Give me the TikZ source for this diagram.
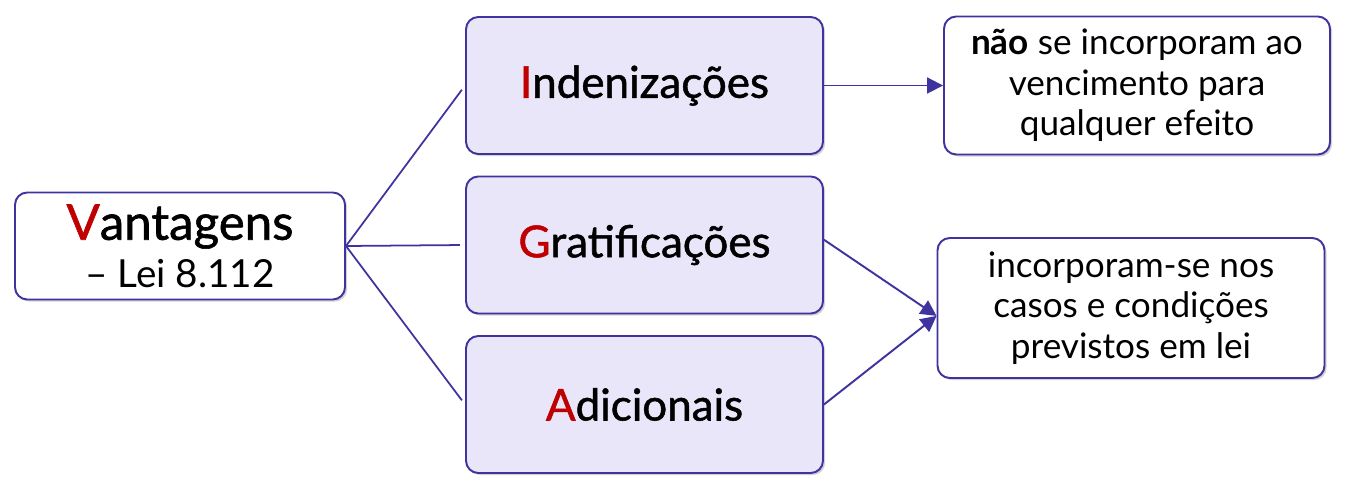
\documentclass[tikz,border=0pt]{standalone}
\usepackage{fontspec}
\setmainfont{Lato}
\usetikzlibrary{arrows.meta,shadows}
\definecolor{linha}{HTML}{3F33A0}
\definecolor{lilas}{HTML}{E8E6F8}
\definecolor{vermelho}{HTML}{C00000}
\newcommand{\ini}[1]{\textcolor{vermelho}{#1}}
\newcommand{\medio}{\addfontfeatures{FakeBold=1.2}}
\begin{document}
\begin{tikzpicture}[
	caixa/.style={draw=linha, line width=1.1pt, rounded corners=7pt, align=center,
		drop shadow={shadow xshift=1.2pt, shadow yshift=-1.2pt, fill=black!35}},
	tipo/.style={caixa, fill=lilas, minimum width=7.14cm, minimum height=2.74cm, font=\fontsize{25}{29}\selectfont\medio},
	nota/.style={caixa, fill=white, minimum width=7.72cm, minimum height=2.76cm, font=\fontsize{20}{23}\selectfont},
	ramo/.style={draw=linha, line width=1pt, shorten >=3pt},
	seta/.style={draw=linha, line width=1.1pt, -{Triangle[length=9pt,width=9pt]}}
	]
	\useasboundingbox (0,0) rectangle (26.9,9.78);
	% Caixa principal
	\node [caixa, fill=white, minimum width=6.6cm, minimum height=2.14cm, font=\fontsize{22}{27}\selectfont] (vant) at (3.6,4.86)
		{{\fontsize{28}{27}\selectfont\medio\ini{V}antagens}\\-- Lei 8.112};
	% Tipos de vantagens
	\node [tipo] (ind) at (12.89,8.07) {\ini{I}ndenizações};
	\node [tipo] (grat) at (12.89,4.88) {\ini{G}ratificações};
	\node [tipo] (adic) at (12.89,1.69) {\ini{A}dicionais};
	% Notas
	\node [nota] (nao) at (22.74,8.07) {\textbf{não} se incorporam ao\\vencimento para\\qualquer efeito};
	\node [nota, minimum width=7.74cm, minimum height=2.8cm] (inc) at (22.62,3.62) {incorporam-se nos\\casos e condições\\previstos em lei};
	\coordinate (encontro) at ([yshift=-4.5pt]inc.west);
	% Ramos
	\foreach \alvo in {ind,grat,adic}
		\draw [ramo] (vant.east) -- (\alvo.west);
	% Setas
	\draw [seta] (ind.east) -- (nao.west);
	\draw [seta] ([yshift=3pt]grat.east) -- (encontro);
	\draw [seta] (adic.east) -- (encontro);
\end{tikzpicture}
\end{document}
